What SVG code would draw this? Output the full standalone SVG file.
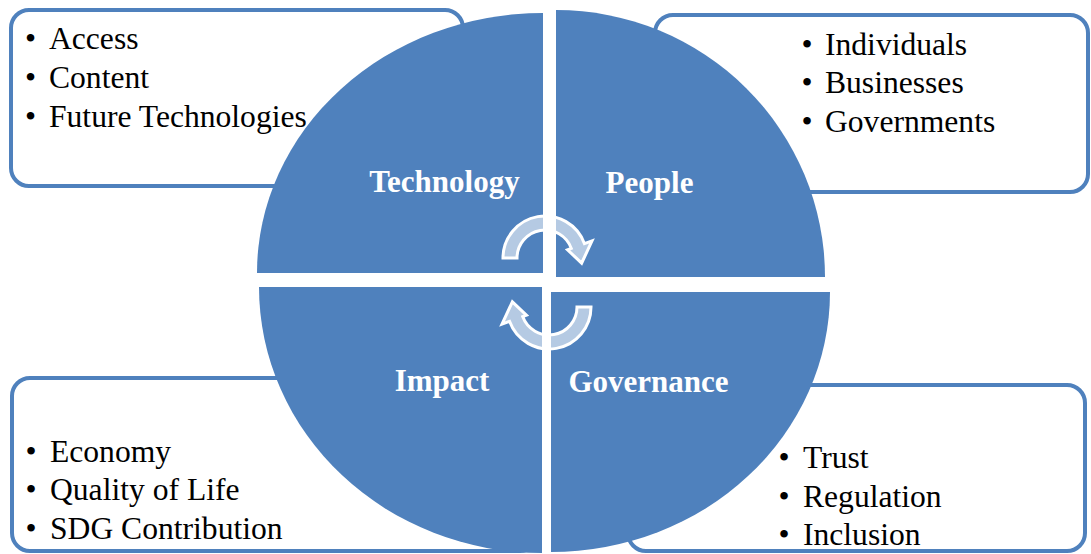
<svg xmlns="http://www.w3.org/2000/svg" width="1091" height="554" viewBox="0 0 1091 554">
<style>
.box{fill:#fff;stroke:#4F81BD;stroke-width:4}
.q{fill:#4F81BD}
.item{font-family:"Liberation Serif","Times New Roman",serif;font-size:31.6px;fill:#000}
.bul{text-anchor:middle}
.lbl{font-family:"Liberation Serif","Times New Roman",serif;font-size:31px;font-weight:bold;fill:#fff;text-anchor:middle}
.arr{fill:#fff;fill-opacity:0.58;stroke:#fff;stroke-width:3;stroke-linejoin:miter}
</style>
<defs>
<path id="cyc" d="M -42 0 A 42 42 0 0 1 39.47 -14.36 L 46.98 -17.1 L 36.64 5.15 L 22.55 -8.21 L 26.31 -9.58 A 28 28 0 0 0 -28 0 Z"/>
</defs>
<rect width="1091" height="554" fill="#fff"/>
<g id="box-technology">
<rect class="box" x="11" y="10" width="452" height="176" rx="18"/>
<text class="item" y="49"><tspan class="bul" x="30.5">•</tspan><tspan x="49">Access</tspan></text>
<text class="item" y="88"><tspan class="bul" x="30.5">•</tspan><tspan x="49">Content</tspan></text>
<text class="item" y="127"><tspan class="bul" x="30.5">•</tspan><tspan x="49">Future Technologies</tspan></text>
</g>
<g id="box-people">
<rect class="box" x="655" y="15" width="433" height="177" rx="18"/>
<text class="item" y="55"><tspan class="bul" x="807">•</tspan><tspan x="825">Individuals</tspan></text>
<text class="item" y="93"><tspan class="bul" x="807">•</tspan><tspan x="825">Businesses</tspan></text>
<text class="item" y="132"><tspan class="bul" x="807">•</tspan><tspan x="825">Governments</tspan></text>
</g>
<g id="box-impact">
<rect class="box" x="12" y="378" width="526" height="173" rx="18"/>
<text class="item" y="462"><tspan class="bul" x="31">•</tspan><tspan x="50">Economy</tspan></text>
<text class="item" y="500"><tspan class="bul" x="31">•</tspan><tspan x="50">Quality of Life</tspan></text>
<text class="item" y="539"><tspan class="bul" x="31">•</tspan><tspan x="50">SDG Contribution</tspan></text>
</g>
<g id="box-governance">
<rect class="box" x="628" y="385" width="457" height="166" rx="18"/>
<text class="item" y="468"><tspan class="bul" x="784">•</tspan><tspan x="803">Trust</tspan></text>
<text class="item" y="507"><tspan class="bul" x="784">•</tspan><tspan x="803">Regulation</tspan></text>
<text class="item" y="545"><tspan class="bul" x="784">•</tspan><tspan x="803">Inclusion</tspan></text>
</g>
<g id="q-technology">
<path class="q" d="M543,273 L257,273 A286 260 0 0 1 543,13 Z"/>
<text class="lbl" x="444.5" y="192">Technology</text>
</g>
<g id="q-people">
<path class="q" d="M556,277 L556,10 A269 267 0 0 1 825,277 Z"/>
<text class="lbl" x="649.5" y="193">People</text>
</g>
<g id="q-governance">
<path class="q" d="M551,292 L830,292 A279 260 0 0 1 551,552 Z"/>
<text class="lbl" x="648.5" y="392">Governance</text>
</g>
<g id="q-impact">
<path class="q" d="M542,287 L542,553 A283 266 0 0 1 259,287 Z"/>
<text class="lbl" x="442" y="391">Impact</text>
</g>
<g id="connectors">
<use href="#cyc" class="arr" transform="translate(545,258)"/>
<use href="#cyc" class="arr" transform="translate(549,307) rotate(180)"/>
</g>
</svg>
